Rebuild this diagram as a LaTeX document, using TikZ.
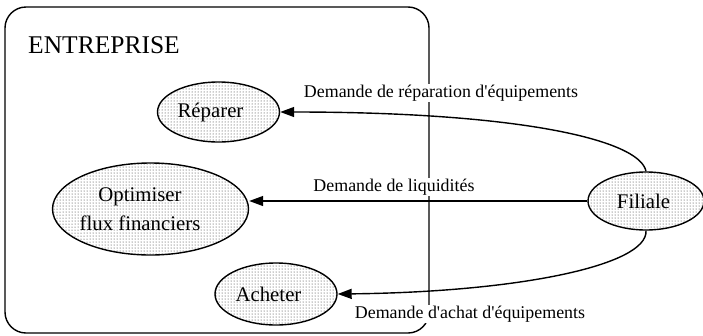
\documentclass[tikz,border=0pt]{standalone}
\usepackage{fontspec}
\setmainfont{Liberation Serif}
\usetikzlibrary{shapes.geometric,arrows.meta,patterns}
\begin{document}
\begin{tikzpicture}[x=1pt,y=-1pt,
  proc/.style={ellipse, draw, line width=1.4pt, fill=white,
    postaction={pattern=dots, pattern color=black!85}, inner sep=0pt},
  ptext/.style={font=\fontsize{20.8}{29}\selectfont, align=center, inner sep=0pt},
  flow/.style={line width=1.4pt, -{Triangle[length=14pt,width=10pt]}},
  flowlabel/.style={font=\fontsize{17.9}{20}\selectfont, fill=white, inner sep=0.8pt, anchor=base},
  boundary/.style={draw, line width=1.4pt, rounded corners=21pt, inner sep=0pt}]
\useasboundingbox (0,0) rectangle (703,335);
% enterprise boundary
\node[boundary, minimum width=424pt, minimum height=326pt] (ent) at (217,170) {};
\node[font=\fontsize{25.5}{30}\selectfont, anchor=base west, inner sep=0pt] (entlabel) at (28,53) {ENTREPRISE};
% processes
\node[proc, minimum width=122pt, minimum height=60pt] (rep) at (218.5,112) {};
\node[ptext] (rept) at (210.5,112) {Réparer};
\node[proc, minimum width=196pt, minimum height=92pt] (opt) at (150.5,209) {};
\node[ptext] (optt) at (140,209) {Optimiser\\flux financiers};
\node[proc, minimum width=122pt, minimum height=62pt] (ach) at (276,294) {};
\node[ptext] (acht) at (268.5,294) {Acheter};
\node[proc, minimum width=116pt, minimum height=58pt] (fil) at (646,201) {};
\node[ptext] (filt) at (643.5,201) {Filiale};
% flows
\draw[flow] (fil.north) .. controls (640,140) and (520,112) .. (rep.east);
\draw[flow] (fil.west) -- (fil.west -| opt.east);
\draw[flow] (fil.south) .. controls (648,265) and (520,292) .. (ach.east);
% flow labels
\node[flowlabel] (l1) at (441,97) {Demande de réparation d\textquotesingle équipements};
\node[flowlabel] (l2) at (394,191) {Demande de liquidités};
\node[flowlabel] (l3) at (470,318) {Demande d\textquotesingle achat d\textquotesingle équipements};
\end{tikzpicture}
\end{document}
